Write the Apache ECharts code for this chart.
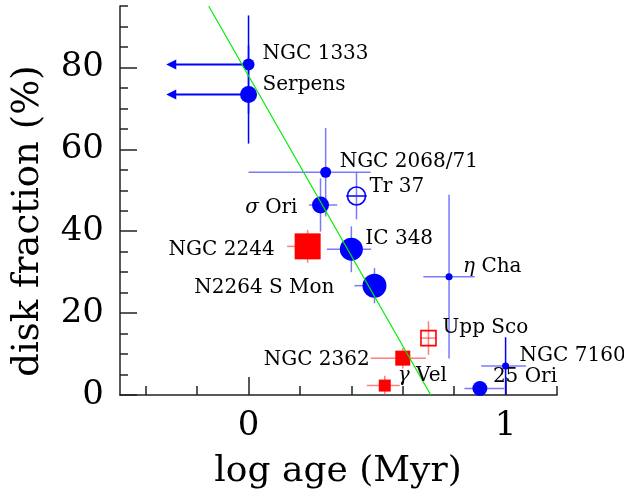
<!DOCTYPE html>
<html>
<head>
<meta charset="utf-8">
<script src="https://cdn.jsdelivr.net/npm/echarts@6/dist/echarts.min.js"></script>
<style>html,body{margin:0;padding:0;background:#fff}#chart{width:624px;height:497px}</style>
</head>
<body>
<div id="chart"></div>
<script>
// ---------------- DATA ----------------
const clusters     = ['NGC 1333','Serpens','NGC 2068/71','Tr 37','σ Ori','NGC 2244','IC 348','N2264 S Mon','η Cha','Upp Sco','NGC 2362','γ Vel','NGC 7160','25 Ori'];
const logAge       = [0.00, 0.00, 0.30, 0.42, 0.28, 0.23, 0.40, 0.49, 0.78, 0.70, 0.60, 0.53, 1.00, 0.90];
const diskFraction = [80.7, 73.4, 54.4, 48.6, 46.4, 36.3, 35.6, 26.7, 28.9, 13.9, 9.0, 2.3, 7.1, 1.6];
const ageErrLow    = [0, 0, 0.30, 0.04, 0.045, 0.08, 0.095, 0.078, 0.10, 0.03, 0.125, 0.07, 0.095, 0.06];
const ageErrHigh   = [0, 0, 0.175, 0.04, 0.065, 0.03, 0.077, 0.03, 0.10, 0.03, 0.09, 0.058, 0.08, 0.095];
const fracErr      = [12, 12, 10.8, 5.7, 6.5, 4.0, 5.6, 4.3, 20, 4.1, 2.5, 2.4, 7.0, 0];
const ageUpperLimitTo = [-0.32, -0.32, null, null, null, null, null, null, null, null, null, null, null, null];
const fitLine      = [[-0.155, 95], [0.709, 0]];
const xMajorTicks  = [0, 1];
const xMinorTicks  = [-0.4, -0.2, 0.2, 0.4, 0.6, 0.8, 1.2];
const xTickLabels  = [0, 1];
const yMajorTicks  = [0, 20, 40, 60, 80];
const yMinorTicks  = [5, 10, 15, 25, 30, 35, 45, 50, 55, 65, 70, 75, 85, 90, 95];
const yTickLabels  = [0, 20, 40, 60, 80];

// ---------------- STYLE / LAYOUT ----------------
const BLUE = '#0000ff', RED = '#ff0000';
const LBLUE = 'rgba(40,40,255,0.62)', LRED = 'rgba(255,40,40,0.6)';
const markerStyle = {
  'NGC 1333':   {symbol:'circle', size:12, fill:BLUE, stroke:null, barH:BLUE, barV:BLUE},
  'Serpens':    {symbol:'circle', size:17, fill:BLUE, stroke:null, barH:BLUE, barV:BLUE},
  'NGC 2068/71':{symbol:'circle', size:11, fill:BLUE, stroke:null, barH:LBLUE, barV:LBLUE},
  'Tr 37':      {symbol:'circle', size:18, fill:'none', stroke:BLUE, barH:BLUE, barV:LBLUE},
  'σ Ori':      {symbol:'circle', size:17, fill:BLUE, stroke:null, barH:LBLUE, barV:LBLUE},
  'NGC 2244':   {symbol:'rect',   size:26, fill:RED, stroke:null, barH:LRED, barV:LRED},
  'IC 348':     {symbol:'circle', size:23, fill:BLUE, stroke:null, barH:LBLUE, barV:LBLUE},
  'N2264 S Mon':{symbol:'circle', size:24, fill:BLUE, stroke:null, barH:LBLUE, barV:LBLUE},
  'η Cha':      {symbol:'circle', size:7,  fill:BLUE, stroke:null, barH:LBLUE, barV:LBLUE},
  'Upp Sco':    {symbol:'rect',   size:15, fill:'none', stroke:RED, barH:LRED, barV:LRED},
  'NGC 2362':   {symbol:'rect',   size:15, fill:RED, stroke:null, barH:LRED, barV:LRED},
  'γ Vel':      {symbol:'rect',   size:12, fill:RED, stroke:null, barH:LRED, barV:LRED},
  'NGC 7160':   {symbol:'circle', size:7,  fill:BLUE, stroke:null, barH:LBLUE, barV:BLUE},
  '25 Ori':     {symbol:'circle', size:15, fill:BLUE, stroke:null, barH:LBLUE, barV:LBLUE}
};
// [dx, dy, align, richText]
const labelPlacement = {
  'NGC 1333':   [14, -11, 'left', 'NGC 1333'],
  'Serpens':    [14, -10, 'left', 'Serpens'],
  'NGC 2068/71':[14, -10, 'left', 'NGC 2068/71'],
  'Tr 37':      [13, -9,  'left', 'Tr 37'],
  'σ Ori':      [-23, 3,  'right', '{g|σ} Ori'],
  'NGC 2244':   [-33, 3,  'right', 'NGC 2244'],
  'IC 348':     [14, -10, 'left', 'IC 348'],
  'N2264 S Mon':[-40, 2,  'right', 'N2264 S Mon'],
  'η Cha':      [14, -10, 'left', '{g|η} Cha'],
  'Upp Sco':    [14, -10, 'left', 'Upp Sco'],
  'NGC 2362':   [-33, 2,  'right', 'NGC 2362'],
  'γ Vel':      [13, -10, 'left', '{g|γ} Vel'],
  'NGC 7160':   [14, -10, 'left', 'NGC 7160'],
  '25 Ori':     [13, -12, 'left', '25 Ori']
};
const SERIF = 'DejaVu Serif';
const AXIS_COLOR = '#222';

// ---------------- BUILD ----------------
const errData = clusters.map((n, i) => [logAge[i], diskFraction[i], ageErrLow[i], ageErrHigh[i], fracErr[i]]);
const arrowData = [];
clusters.forEach((n, i) => { if (ageUpperLimitTo[i] !== null) arrowData.push([logAge[i], diskFraction[i], ageUpperLimitTo[i]]); });
const pointData = clusters.map((n, i) => {
  const s = markerStyle[n];
  return {
    name: n,
    value: [logAge[i], diskFraction[i]],
    symbol: s.symbol,
    symbolSize: s.size,
    itemStyle: s.fill === 'none'
      ? {color: 'rgba(0,0,0,0)', borderColor: s.stroke, borderWidth: 1.6, opacity: 1}
      : {color: s.fill, opacity: 1}
  };
});

function renderErr(params, api) {
  const i = params.dataIndex;
  const s = markerStyle[clusters[i]];
  const x = api.value(0), y = api.value(1), xl = api.value(2), xh = api.value(3), ye = api.value(4);
  const children = [];
  if (xl || xh) {
    const a = api.coord([x - xl, y]), b = api.coord([x + xh, y]);
    children.push({type:'line', shape:{x1:a[0], y1:a[1], x2:b[0], y2:b[1]}, style:{stroke:s.barH, lineWidth:1.5}});
  }
  if (ye) {
    const a = api.coord([x, y - ye]), b = api.coord([x, y + ye]);
    children.push({type:'line', shape:{x1:a[0], y1:a[1], x2:b[0], y2:b[1]}, style:{stroke:s.barV, lineWidth:1.5}});
  }
  return {type:'group', children};
}
function renderArrow(params, api) {
  const p = api.coord([api.value(0), api.value(1)]);
  const e = api.coord([api.value(2), api.value(1)]);
  return {type:'group', children:[
    {type:'line', shape:{x1:p[0], y1:p[1], x2:e[0] + 8, y2:e[1]}, style:{stroke:BLUE, lineWidth:2}},
    {type:'polygon', shape:{points:[[e[0], e[1]], [e[0] + 10, e[1] - 5], [e[0] + 10, e[1] + 5]]}, style:{fill:BLUE}}
  ]};
}
function renderLabel(params, api) {
  const i = params.dataIndex;
  const lp = labelPlacement[clusters[i]];
  const p = api.coord([api.value(0), api.value(1)]);
  return {type:'text', x: p[0] + lp[0], y: p[1] + lp[1], style:{
    text: lp[3], fill:'#000', font: '20px "' + SERIF + '"',
    textAlign: lp[2], textVerticalAlign: 'middle',
    rich: {g: {fontStyle:'italic', fontSize:20, fontFamily:SERIF}}
  }};
}

const baseX = {type:'value', min:-0.5, max:1.2, gridIndex:0, position:'bottom', splitLine:{show:false}};
const baseY = {type:'value', min:0, max:95, gridIndex:0, position:'left', splitLine:{show:false}};

const option = {
  animation: false,
  grid: {left:120, right:67, top:6, bottom:102, containLabel:false},
  xAxis: [
    Object.assign({}, baseX, {
      axisLine:{show:true, onZero:false, lineStyle:{color:AXIS_COLOR, width:1.5}},
      axisTick:{show:true, inside:true, length:18, customValues:xMajorTicks, lineStyle:{color:AXIS_COLOR, width:1.5}},
      axisLabel:{show:true, customValues:xTickLabels, margin:14, fontSize:34, fontFamily:SERIF, color:'#000'}
    }),
    Object.assign({}, baseX, {
      axisLine:{show:false, onZero:false},
      axisTick:{show:true, inside:true, length:9, customValues:xMinorTicks, lineStyle:{color:AXIS_COLOR, width:1.5}},
      axisLabel:{show:false}
    })
  ],
  yAxis: [
    Object.assign({}, baseY, {
      axisLine:{show:true, onZero:false, lineStyle:{color:AXIS_COLOR, width:1.5}},
      axisTick:{show:true, inside:true, length:17, customValues:yMajorTicks, lineStyle:{color:AXIS_COLOR, width:1.5}},
      axisLabel:{show:true, customValues:yTickLabels, margin:16, fontSize:34, fontFamily:SERIF, color:'#000'}
    }),
    Object.assign({}, baseY, {
      axisLine:{show:false, onZero:false},
      axisTick:{show:true, inside:true, length:8, customValues:yMinorTicks, lineStyle:{color:AXIS_COLOR, width:1.5}},
      axisLabel:{show:false}
    })
  ],
  graphic: [
    {type:'text', x:338, y:472, style:{text:'log age (Myr)', font:'36px "' + SERIF + '"', fill:'#000', textAlign:'center', textVerticalAlign:'middle'}, z:100},
    {type:'text', x:28, y:221, rotation:Math.PI/2, style:{text:'disk fraction (%)', font:'37px "' + SERIF + '"', fill:'#000', textAlign:'center', textVerticalAlign:'middle'}, z:100}
  ],
  series: [
    {type:'custom', name:'errors', xAxisIndex:0, yAxisIndex:0, renderItem:renderErr, data:errData, z:2, clip:false},
    {type:'custom', name:'limits', xAxisIndex:0, yAxisIndex:0, renderItem:renderArrow, data:arrowData, z:2},
    {type:'scatter', name:'clusters', xAxisIndex:0, yAxisIndex:0, data:pointData, z:3},
    {type:'line', name:'fit', xAxisIndex:0, yAxisIndex:0, data:fitLine, symbol:'none', lineStyle:{color:'#00ee00', width:1.2}, z:5},
    {type:'custom', name:'labels', xAxisIndex:0, yAxisIndex:0, renderItem:renderLabel, data:errData.map(d => [d[0], d[1]]), z:6, clip:false}
  ]
};
const chart = echarts.init(document.getElementById('chart'), null, {renderer:'canvas'});
chart.setOption(option);
</script>
</body>
</html>
